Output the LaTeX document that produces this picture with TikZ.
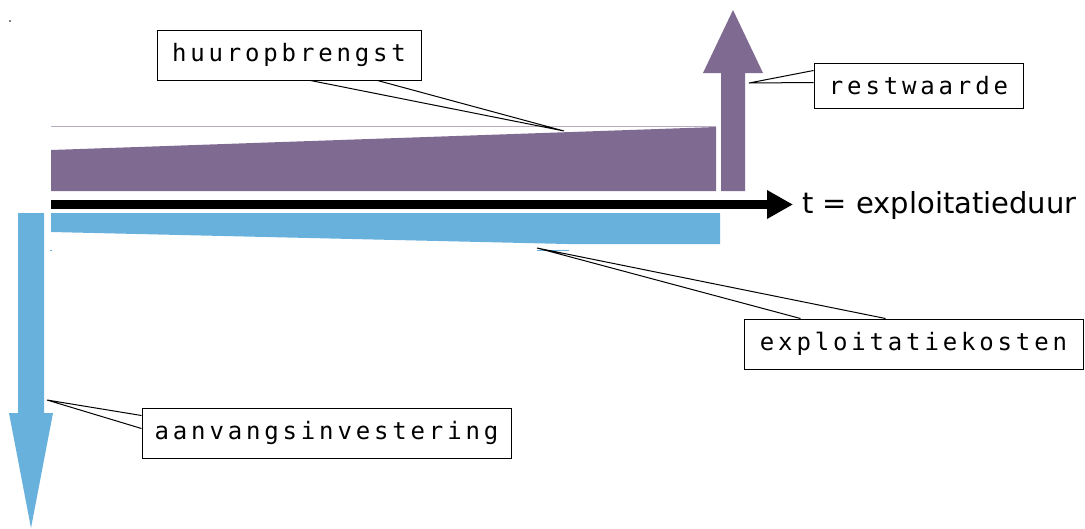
\documentclass[tikz,border=0pt]{standalone}
\usepackage{fontspec}
\setmainfont{DejaVu Sans}
\newfontfamily\labelfont[LetterSpace=16]{DejaVu Sans Mono}
\usepackage{tikz}
\usepackage{xcolor}
\usetikzlibrary{arrows.meta,positioning,calc}
\definecolor{huurpaars}{RGB}{127,106,145}
\definecolor{kostenblauw}{RGB}{104,177,220}

\begin{document}
\begin{tikzpicture}[
    x=1pt, y=-1pt,
    label/.style={rectangle, draw=black, line width=1pt, fill=white, inner sep=0pt, minimum height=50pt, font=\labelfont\fontsize{24}{28}\selectfont, align=center},
    callout/.style={draw=black, line width=1pt, line join=miter},
    axis/.style={line width=9pt, -{Triangle[length=26pt, width=27pt]}}
]
\useasboundingbox (0,0) rectangle (1085,528);

% Stray dot
\fill[black] (10,21) circle (0.8);

% Bands
\draw[huurpaars!55, line width=0.8pt] (51,126) -- (716,126);
\fill[huurpaars] (51,191) -- (51,150) -- (716,127) -- (716,191) -- cycle;
\fill[kostenblauw] (51,213) -- (720,213) -- (720,244) -- (567,244) -- (51,232) -- cycle;
\draw[kostenblauw, line width=0.8pt] (537,250) -- (569,250);
\draw[kostenblauw, line width=0.8pt] (50,250) -- (52,250);

% Block arrows
\fill[huurpaars] (721,191) -- (745,191) -- (745,73) -- (763,73) -- (733,10) -- (703,73) -- (721,73) -- cycle;
\fill[kostenblauw] (18,213) -- (44,213) -- (44,413) -- (53,413) -- (31,528) -- (9,413) -- (18,413) -- cycle;

% Time axis
\coordinate (origin) at (51,204.5);
\coordinate (tend) at (793,204.5);
\draw[axis] (origin) -- (tend);
\node[anchor=base west, inner sep=0pt, font=\fontsize{29}{34}\selectfont] (tlabel) at (802,213) {t = exploitatieduur};

% Labels
\node[label, minimum width=264pt] (huur) at (289,55) {huuropbrengst};
\node[label, minimum width=209pt, minimum height=45pt] (rest) at (918.5,85.5) {restwaarde};
\node[label, minimum width=339pt] (kosten) at (913.5,344) {exploitatiekosten};
\node[label, minimum width=369pt] (aanvang) at (326.5,433) {aanvangsinvestering};

% Callouts
\coordinate (huurtip) at (564,131);
\coordinate (resttip) at (749,83);
\coordinate (kostentip) at (537,248);
\coordinate (aanvangtip) at (47,400);
\draw[callout] ($(huur.south west)+(154,0)$) -- (huurtip) -- ($(huur.south west)+(221,0)$);
\draw[callout] ($(rest.north west)+(0,8)$) -- (resttip) -- ($(rest.north west)+(0,20)$);
\draw[callout] ($(kosten.north west)+(57,0)$) -- (kostentip) -- ($(kosten.north west)+(142,0)$);
\draw[callout] ($(aanvang.north west)+(0,8)$) -- (aanvangtip) -- ($(aanvang.north west)+(0,21)$);

\end{tikzpicture}
\end{document}
